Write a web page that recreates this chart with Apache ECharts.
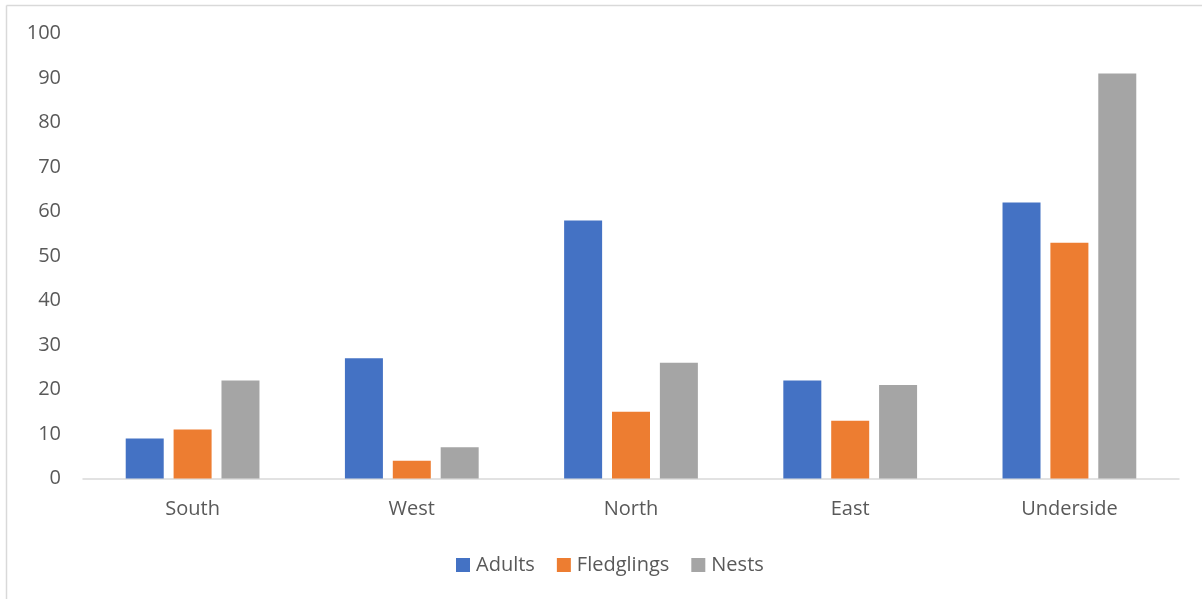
<!DOCTYPE html>
<html>
<head>
<meta charset="utf-8">
<script src="https://cdn.jsdelivr.net/npm/echarts@6/dist/echarts.min.js"></script>
<style>
  html, body { margin: 0; padding: 0; background: #fff; }
  #chart { width: 1202px; height: 599px; }
</style>
</head>
<body>
<div id="chart"></div>
<script>
// Bird survey counts by wall side
const categories = ['South', 'West', 'North', 'East', 'Underside'];
const adults = [9, 27, 58, 22, 62];
const fledglings = [11, 4, 15, 13, 53];
const nests = [22, 7, 26, 21, 91];
const yTicks = { min: 0, max: 100, interval: 10 };

const textColor = '#595959';
const fontFamily = '"Open Sans", "Noto Sans", sans-serif';

const chart = echarts.init(document.getElementById('chart'), null, { renderer: 'canvas' });

function barSeries(name, data, color) {
  return {
    name: name,
    type: 'bar',
    data: data,
    barWidth: 38,
    barGap: '26%',
    itemStyle: { color: color },
    emphasis: { disabled: true }
  };
}

chart.setOption({
  animation: false,
  textStyle: { fontFamily: fontFamily },
  graphic: [
    // chart area frame (left and top edges)
    { type: 'line', shape: { x1: 6.5, y1: 5.5, x2: 6.5, y2: 599 }, style: { stroke: '#D9D9D9', lineWidth: 1.5 } },
    { type: 'line', shape: { x1: 6.5, y1: 5.5, x2: 1202, y2: 5.5 }, style: { stroke: '#D9D9D9', lineWidth: 1.5 } }
  ],
  grid: { left: 83, right: 23, top: 33.5, bottom: 120.5, containLabel: false },
  legend: {
    data: ['Adults', 'Fledglings', 'Nests'],
    top: 550,
    left: 451,
    itemWidth: 14,
    itemHeight: 14,
    itemGap: 22,
    icon: 'rect',
    textStyle: { color: textColor, fontSize: 20, fontFamily: fontFamily, padding: [0, 0, 0, 1] }
  },
  xAxis: {
    type: 'category',
    data: categories,
    axisLine: { lineStyle: { color: '#D9D9D9', width: 1.5 } },
    axisTick: { show: false },
    axisLabel: { color: textColor, fontSize: 20, margin: 21, fontFamily: fontFamily }
  },
  yAxis: {
    type: 'value',
    min: yTicks.min,
    max: yTicks.max,
    interval: yTicks.interval,
    axisLine: { show: false },
    axisTick: { show: false },
    splitLine: { show: false },
    axisLabel: { color: textColor, fontSize: 20, margin: 22, fontFamily: fontFamily }
  },
  series: [
    barSeries('Adults', adults, '#4472C4'),
    barSeries('Fledglings', fledglings, '#ED7D31'),
    barSeries('Nests', nests, '#A5A5A5')
  ]
});
</script>
</body>
</html>
